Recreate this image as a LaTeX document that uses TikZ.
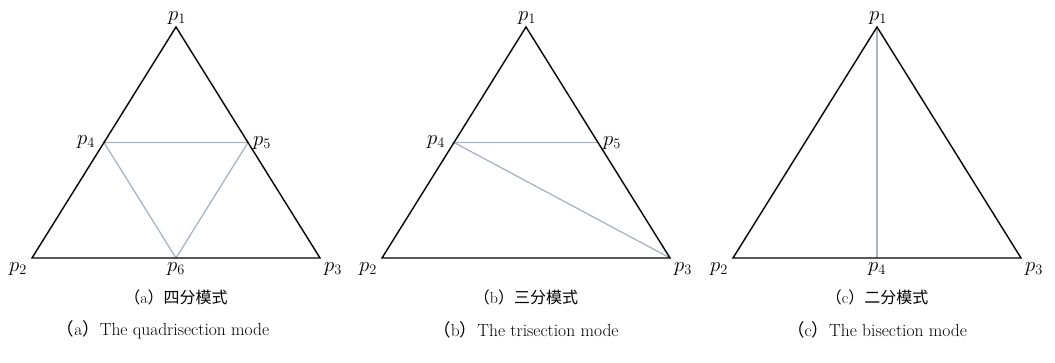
\documentclass[tikz,border=0pt]{standalone}
\usepackage{fontspec}
\usetikzlibrary{calc}
\newfontfamily\cjk{Noto Sans CJK SC}
\definecolor{sub}{RGB}{168,180,194}
\tikzset{
  outer/.style={draw=black, line width=1.4pt, line join=miter},
  inner/.style={draw=sub, line width=1.3pt},
  plabel/.style={inner sep=0pt, font=\fontsize{20}{24}\selectfont},
  captxt/.style={inner sep=0pt, font=\fontsize{16}{19}\selectfont},
  capen/.style={inner sep=0pt, font=\fontsize{17.5}{21}\selectfont}
}
\begin{document}
\begin{tikzpicture}[x=1pt,y=1pt]
\useasboundingbox (0,0) rectangle (1055,363);
% ---- (a)
\coordinate (a1) at (176,336);
\coordinate (a2) at (32,105);
\coordinate (a3) at (320,105);
\coordinate (a4) at ($(a1)!0.5!(a2)$);
\coordinate (a5) at ($(a1)!0.5!(a3)$);
\coordinate (a6) at ($(a2)!0.5!(a3)$);
\draw[inner] (a4) -- (a5) -- (a6) -- cycle;
\draw[outer] (a1) -- (a2) -- (a3) -- cycle;
\node[plabel] (la1) at (177,345) {$p_1$};
\node[plabel] (la2) at (18,94) {$p_2$};
\node[plabel] (la3) at (333,94) {$p_3$};
\node[plabel] (la4) at (86,221) {$p_4$};
\node[plabel] (la5) at (262,220) {$p_5$};
\node[plabel] (la6) at (176,94) {$p_6$};
\node[captxt] (ca1) at (176,66) {{\cjk （}a{\cjk ）四分模式}};
\node[capen] (ca2) at (163,33) {{\cjk （}a{\cjk ）}The quadrisection mode};
% ---- (b)
\coordinate (b1) at (526,336);
\coordinate (b2) at (382,105);
\coordinate (b3) at (670,105);
\coordinate (b4) at ($(b1)!0.5!(b2)$);
\coordinate (b5) at ($(b1)!0.5!(b3)$);
\draw[inner] (b5) -- (b4) -- (b3);
\draw[outer] (b1) -- (b2) -- (b3) -- cycle;
\node[plabel] (lb1) at (527,345) {$p_1$};
\node[plabel] (lb2) at (368,94) {$p_2$};
\node[plabel] (lb3) at (683,94) {$p_3$};
\node[plabel] (lb4) at (436,221) {$p_4$};
\node[plabel] (lb5) at (612,220) {$p_5$};
\node[captxt] (cb1) at (526,66) {{\cjk （}b{\cjk ）三分模式}};
\node[capen] (cb2) at (526,33) {{\cjk （}b{\cjk ）}The trisection mode};
% ---- (c)
\coordinate (c1) at (877,336);
\coordinate (c2) at (733,105);
\coordinate (c3) at (1021,105);
\coordinate (c4) at ($(c2)!0.5!(c3)$);
\draw[inner] (c1) -- (c4);
\draw[outer] (c1) -- (c2) -- (c3) -- cycle;
\node[plabel] (lc1) at (878,345) {$p_1$};
\node[plabel] (lc2) at (719,94) {$p_2$};
\node[plabel] (lc3) at (1034,94) {$p_3$};
\node[plabel] (lc4) at (877,94) {$p_4$};
\node[captxt] (cc1) at (877,66) {{\cjk （}c{\cjk ）二分模式}};
\node[capen] (cc2) at (877,33) {{\cjk （}c{\cjk ）}The bisection mode};
\end{tikzpicture}
\end{document}
